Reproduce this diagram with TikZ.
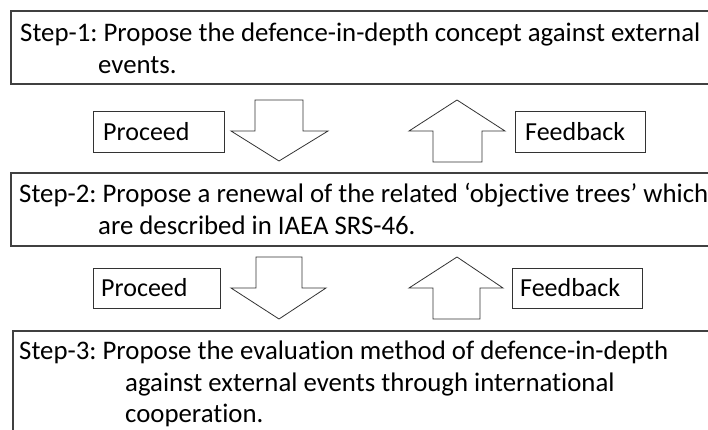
\documentclass[tikz,border=0pt]{standalone}
\usepackage{fontspec}
\setmainfont[Ligatures=NoCommon]{Carlito}
\frenchspacing
\begin{document}
\begin{tikzpicture}[x=1pt,y=-1pt,
  stepbox/.style={draw=black!75, line width=1.1pt},
  tagbox/.style={draw=black!80, line width=0.9pt, fill=white},
  steptext/.style={anchor=base west, inner sep=0pt,
    font=\fontsize{26.8}{32}\selectfont},
  tagtext/.style={anchor=west, inner sep=0pt, font=\fontsize{26}{30}\selectfont},
  blockarrow/.style={draw=black!80, line width=0.8pt, fill=white, line join=miter}]
  \useasboundingbox (0,0) rectangle (708,430);
  \clip (0,0) rectangle (708,430);

  % step frames
  \draw[stepbox] (11,11) rectangle (720,84);
  \draw[stepbox] (11,173) rectangle (720,246);
  \draw[stepbox] (13,331) rectangle (720,445);

  % step texts, one node per line with a hanging indent
  \node[steptext] (s1a) at (20,42) {Step-1: Propose the defence-in-depth concept against external};
  \node[steptext] (s1b) at (98,74) {events.};
  \node[steptext] (s2a) at (19,203) {Step-2: Propose a renewal of the related ‘objective trees’ which};
  \node[steptext] (s2b) at (98,234.5) {are described in IAEA SRS-46.};
  \node[steptext] (s3a) at (19,359) {Step-3: Propose the evaluation method of defence-in-depth};
  \node[steptext] (s3b) at (125,391) {against external events through international};
  \node[steptext] (s3c) at (125,422.5) {cooperation.};

  % first transition row
  \draw[tagbox] (93,111) rectangle (224,152);
  \node[tagtext] (p1) at (103,131.5) {Proceed};
  \draw[tagbox] (515,111) rectangle (645,152);
  \node[tagtext] (f1) at (525,131.5) {Feedback};
  \draw[blockarrow] (255,100) -- (303,100) -- (303,131) -- (328,131) -- (279,161)
    -- (231,131) -- (255,131) -- cycle;
  \draw[blockarrow] (457,100) -- (505,131) -- (482,131) -- (482,162) -- (433,162)
    -- (433,131) -- (409,131) -- cycle;

  % second transition row
  \draw[tagbox] (93,268) rectangle (220,308);
  \node[tagtext] (p2) at (101,288) {Proceed};
  \draw[tagbox] (512,268) rectangle (642,308);
  \node[tagtext] (f2) at (520,288) {Feedback};
  \draw[blockarrow] (256,257) -- (302,257) -- (302,288) -- (326,288) -- (279,319)
    -- (231,288) -- (256,288) -- cycle;
  \draw[blockarrow] (457,257) -- (503,288) -- (480,288) -- (480,319) -- (433,319)
    -- (433,288) -- (409,288) -- cycle;
\end{tikzpicture}
\end{document}
